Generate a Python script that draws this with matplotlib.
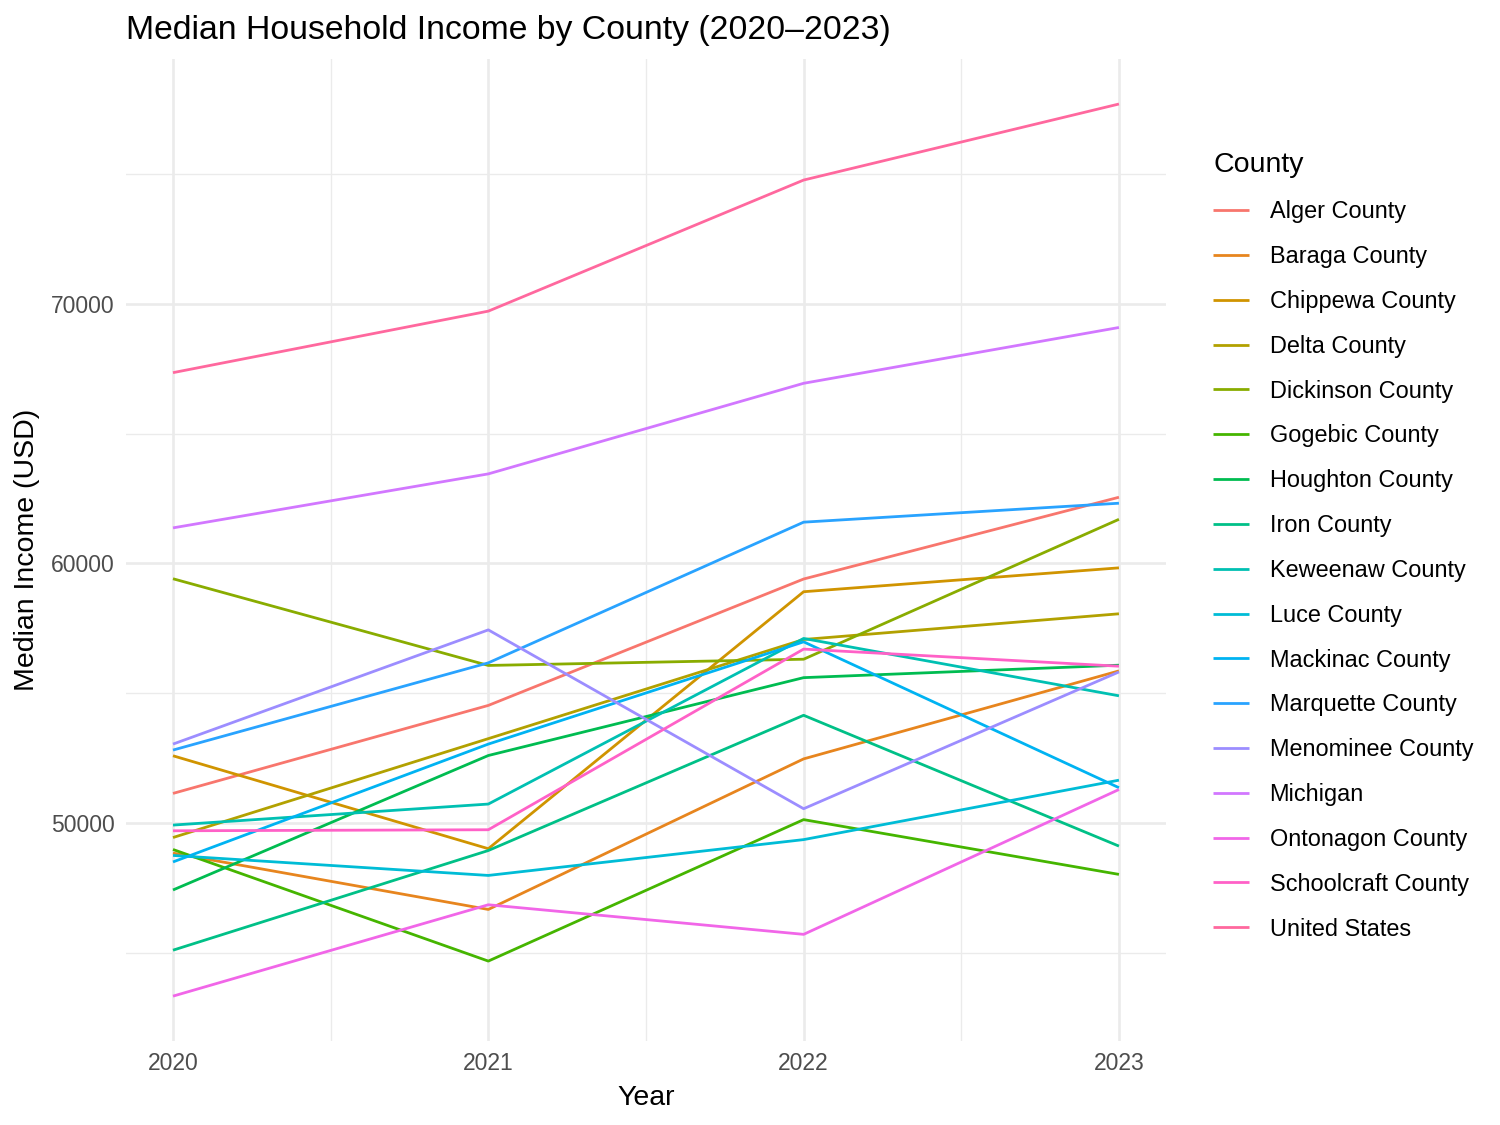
import math
import matplotlib
matplotlib.use("Agg")
import matplotlib.pyplot as plt
from matplotlib.ticker import MultipleLocator

plt.rcParams['font.family'] = ['Liberation Sans', 'DejaVu Sans']

# DATA
years = [2020, 2021, 2022, 2023]
counties = ["Alger County", "Baraga County", "Chippewa County", "Delta County",
            "Dickinson County", "Gogebic County", "Houghton County", "Iron County",
            "Keweenaw County", "Luce County", "Mackinac County", "Marquette County",
            "Menominee County", "Michigan", "Ontonagon County", "Schoolcraft County",
            "United States"]

alger = [51140, 54530, 59400, 62550]
baraga = [48840, 46670, 52470, 55860]
chippewa = [52590, 49010, 58910, 59830]
delta = [49440, 53250, 57070, 58060]
dickinson = [59410, 56070, 56310, 61700]
gogebic = [48980, 44680, 50130, 48020]
houghton = [47420, 52600, 55600, 56080]
iron = [45100, 48940, 54150, 49110]
keweenaw = [49920, 50730, 57110, 54900]
luce = [48750, 47980, 49360, 51650]
mackinac = [48500, 53040, 56980, 51360]
marquette = [52810, 56170, 61590, 62320]
menominee = [53040, 57440, 50550, 55820]
michigan = [61370, 63450, 66940, 69090]
ontonagon = [43330, 46850, 45710, 51290]
schoolcraft = [49700, 49740, 56700, 56040]
united_states = [67350, 69720, 74770, 77700]

series = [alger, baraga, chippewa, delta, dickinson, gogebic, houghton, iron,
          keweenaw, luce, mackinac, marquette, menominee, michigan, ontonagon,
          schoolcraft, united_states]


# ggplot2 default hue palette: hcl(h, c=100, l=65)
def hcl_hex(h, c=100.0, l=65.0):
    hr = math.radians(h)
    U, V = c * math.cos(hr), c * math.sin(hr)
    Xn, Yn, Zn = 95.047, 100.0, 108.883
    un = 4 * Xn / (Xn + 15 * Yn + 3 * Zn)
    vn = 9 * Yn / (Xn + 15 * Yn + 3 * Zn)
    Y = Yn * ((l + 16) / 116) ** 3
    u = U / (13 * l) + un
    v = V / (13 * l) + vn
    X = 9.0 * Y * u / (4 * v)
    Z = -X / 3 - 5 * Y + 3 * Y / v
    X, Y, Z = X / 100, Y / 100, Z / 100
    r = 3.240479 * X - 1.537150 * Y - 0.498535 * Z
    g = -0.969256 * X + 1.875992 * Y + 0.041556 * Z
    b = 0.055648 * X - 0.204043 * Y + 1.057311 * Z

    def gam(t):
        t = 1.055 * t ** (1 / 2.4) - 0.055 if t > 0.0031308 else 12.92 * t
        return min(max(t, 0.0), 1.0)
    return (gam(r), gam(g), gam(b))


n = len(counties)
colors = [hcl_hex(15 + i * 360.0 / n) for i in range(n)]

fig = plt.figure(figsize=(15, 11.25), dpi=100)
ax = fig.add_axes([0.0838, 0.0749, 0.6937, 0.8723])

for name, vals, col in zip(counties, series, colors):
    ax.plot(years, vals, color=col, lw=2.0, label=name, solid_capstyle='butt')

ax.margins(x=0.05, y=0.05)
ax.set_xticks(years)
ax.xaxis.set_minor_locator(MultipleLocator(0.5))
ax.yaxis.set_major_locator(MultipleLocator(10000))
ax.yaxis.set_minor_locator(MultipleLocator(5000))
ax.grid(which='major', color='#EBEBEB', lw=1.9)
ax.grid(which='minor', color='#EBEBEB', lw=0.95)
ax.set_axisbelow(True)
for s in ax.spines.values():
    s.set_visible(False)
ax.tick_params(which='both', length=0)
ax.tick_params(axis='both', labelsize=16.5, labelcolor='#4D4D4D', pad=8)

ax.set_xlabel("Year", fontsize=20.5, labelpad=7)
ax.set_ylabel("Median Income (USD)", fontsize=20.5, labelpad=8)
fig.text(0.084, 0.9725, "Median Household Income by County (2020\u20132023)",
         fontsize=24.3, ha='left', va='center')

leg = fig.legend(loc='upper left', bbox_to_anchor=(0.8087, 0.8645), frameon=False,
                 title="County", title_fontsize=20.5, fontsize=16.9,
                 handlelength=1.53, handletextpad=0.88, labelspacing=0.93,
                 borderpad=0, borderaxespad=0, alignment='left')

fig.savefig("out.png", dpi=100)
